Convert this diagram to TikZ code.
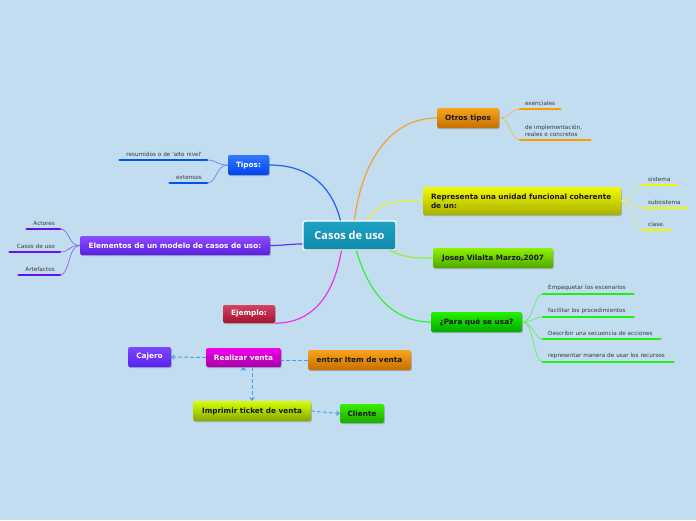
\documentclass[tikz,border=0pt]{standalone}
\usepackage{fontspec}
\setmainfont{DejaVu Sans}
\newfontfamily\ctrfont{Open Sans}
\usetikzlibrary{shadows,arrows.meta}
\definecolor{bg}{HTML}{C2DDF0}
\definecolor{ctrT}{HTML}{1DA2C4}
\definecolor{ctrB}{HTML}{1288AA}
\definecolor{orT}{HTML}{F8A41C}
\definecolor{orB}{HTML}{C47000}
\definecolor{yeT}{HTML}{F2FA00}
\definecolor{yeB}{HTML}{A8B000}
\definecolor{joT}{HTML}{8EF200}
\definecolor{joB}{HTML}{4EA800}
\definecolor{paT}{HTML}{26F200}
\definecolor{paB}{HTML}{00A800}
\definecolor{tiT}{HTML}{3377FF}
\definecolor{tiB}{HTML}{0044EE}
\definecolor{elT}{HTML}{8C4EFF}
\definecolor{elB}{HTML}{5A1EE0}
\definecolor{ejT}{HTML}{D24462}
\definecolor{ejB}{HTML}{A81030}
\definecolor{caT}{HTML}{7C46FF}
\definecolor{caB}{HTML}{5A22EE}
\definecolor{rvT}{HTML}{F200EA}
\definecolor{rvB}{HTML}{A800A8}
\definecolor{imT}{HTML}{D6FF00}
\definecolor{imB}{HTML}{88A800}
\definecolor{clT}{HTML}{36EE00}
\definecolor{clB}{HTML}{1EAA00}
\definecolor{lTi}{HTML}{2060F0}
\definecolor{lEl}{HTML}{6633EE}
\definecolor{lEj}{HTML}{EE33EE}
\definecolor{lOr}{HTML}{F5A030}
\definecolor{lYe}{HTML}{EEF030}
\definecolor{lJo}{HTML}{99EE33}
\definecolor{lPa}{HTML}{33EE33}
\definecolor{uOr}{HTML}{FF9900}
\definecolor{uYe}{HTML}{F5F500}
\definecolor{uPa}{HTML}{22EE11}
\definecolor{uTi}{HTML}{0055EE}
\definecolor{uEl}{HTML}{6611EE}
\definecolor{bOr}{HTML}{F5B050}
\definecolor{bYe}{HTML}{EEF060}
\definecolor{bPa}{HTML}{55EE55}
\definecolor{bTi}{HTML}{4488EE}
\definecolor{bEl}{HTML}{8855EE}
\definecolor{dashblue}{HTML}{4A9BE8}
\tikzset{
  box/.style={rectangle, rounded corners=2pt, inner sep=0pt, align=center,
    font=\fontsize{7.3}{8.6}\selectfont\bfseries,
    drop shadow={shadow xshift=0.8pt, shadow yshift=-1.2pt, opacity=0.3, fill=black!70}},
  dark/.style={text=black!90},
  light/.style={text=white},
  leafR/.style={anchor=south west, align=left, inner xsep=5pt, inner ysep=3pt,
    font=\fontsize{5.7}{6.9}\selectfont, text=black!78},
  leafL/.style={anchor=south east, align=right, inner xsep=5pt, inner ysep=3pt,
    font=\fontsize{5.7}{6.9}\selectfont, text=black!78},
  uline/.style={line width=2.7pt, line cap=round},
  branch/.style={line width=0.6pt},
  mainline/.style={line width=1.2pt},
  dashc/.style={draw=dashblue, line width=1pt, dash pattern=on 3.5pt off 2.5pt},
  tipc/.style={-{Straight Barb[length=2.4pt,width=4.4pt]}},
}
\begin{document}
\begin{tikzpicture}[x=1pt,y=-1pt]
\fill[bg] (0,0) rectangle (696,520);
\useasboundingbox (0,0) rectangle (696,520);

% main nodes
\node[box,light,top color=ctrT,bottom color=ctrB,draw=white,line width=1.2pt,rounded corners=2.5pt,
  minimum width=93pt,minimum height=29pt,font=\ctrfont\fontsize{11}{13}\selectfont\bfseries] (c) at (349.5,235.5) {Casos de uso};
\node[box,dark,top color=orT,bottom color=orB,minimum width=62pt,minimum height=20pt] (ot) at (468,118) {Otros tipos};
\node[box,dark,top color=yeT,bottom color=yeB,minimum width=198pt,minimum height=28pt,text width=182pt,align=left] (rep) at (522,201) {Representa una unidad funcional coherente\\de un:};
\node[box,dark,top color=joT,bottom color=joB,minimum width=120pt,minimum height=20pt] (jos) at (493,258) {Josep Vilalta Marzo,2007};
\node[box,dark,top color=paT,bottom color=paB,minimum width=91pt,minimum height=20pt] (para) at (476.5,322) {¿Para qué se usa?};
\node[box,light,top color=tiT,bottom color=tiB,minimum width=41pt,minimum height=20pt] (tip) at (248.5,165) {Tipos:};
\node[box,light,top color=elT,bottom color=elB,minimum width=190pt,minimum height=19pt] (el) at (175,245.5) {Elementos de un modelo de casos de uso:};
\node[box,light,top color=ejT,bottom color=ejB,minimum width=52pt,minimum height=18pt] (ej) at (249,314) {Ejemplo:};
\node[box,light,top color=caT,bottom color=caB,minimum width=43pt,minimum height=20pt] (caj) at (149.5,357) {Cajero};
\node[box,light,top color=rvT,bottom color=rvB,minimum width=75pt,minimum height=19pt] (rv) at (243.5,357.5) {Realizar venta};
\node[box,dark,top color=orT,bottom color=orB,minimum width=103pt,minimum height=20pt] (ent) at (359.5,360) {entrar Item de venta};
\node[box,dark,top color=imT,bottom color=imB,minimum width=118pt,minimum height=20pt] (imp) at (252,411) {Imprimir ticket de venta};
\node[box,dark,top color=clT,bottom color=clB,minimum width=44pt,minimum height=19pt] (cli) at (362,413.5) {Cliente};

% main connectors
\draw[mainline,lTi] ([xshift=38pt]c.north west) .. controls +(-8,-32) and +(42,0) .. (tip.east);
\draw[mainline,lOr] ([xshift=52pt]c.north west) .. controls +(8,-62) and +(-45,0) .. (ot.west);
\draw[mainline,lYe] ([xshift=64pt]c.north west) .. controls +(15,-18) and +(-35,0) .. (rep.west);
\draw[mainline,lJo] ([xshift=87pt]c.south west) .. controls +(15,6) and +(-25,0) .. (jos.west);
\draw[mainline,lPa] ([xshift=54pt]c.south west) .. controls +(12,42) and +(-38,0) .. (para.west);
\draw[mainline,lEj] ([xshift=39pt]c.south west) .. controls +(-8,48) and +(35,0) .. (ej.south east);
\draw[mainline,lEl] ([yshift=-8.5pt]c.west) .. controls +(-15,0) and +(15,0) .. (el.east);

% leaves: Otros tipos
\node[leafR,text width=30pt] (l1) at (520,109) {esenciales};
\node[leafR,text width=60pt] (l2) at (520,140) {de implementación,\\reales o concretos};
% Representa
\node[leafR,text width=23pt] (l3) at (643,185) {sistema};
\node[leafR,text width=34pt] (l4) at (643,208) {subsistema};
\node[leafR,text width=17pt] (l5) at (643,230) {clase.};
% Para que
\node[leafR,text width=80pt] (l6) at (543,294) {Empaquetar los escenarios};
\node[leafR,text width=80pt] (l7) at (543,317) {facilitar los procedimientos};
\node[leafR,text width=107pt] (l8) at (543,339) {Describir una secuencia de acciones};
\node[leafR,text width=120pt] (l9) at (543,362) {representar manera de usar los recursos};
% Tipos
\node[leafL,text width=77pt] (l10) at (207,160) {resumidos o de \textquotesingle alto nivel\textquotesingle};
\node[leafL,text width=27pt] (l11) at (207,183) {extensos};
% Elementos
\node[leafL,text width=23pt] (l12) at (60,229) {Actores};
\node[leafL,text width=40pt] (l13) at (60,252) {Casos de uso};
\node[leafL,text width=31pt] (l14) at (60,275) {Artefactos};

% branches and underlines
\foreach \l in {l1,l2}{
  \draw[branch,bOr] (ot.east) .. controls +(12,0) and +(-10,0) .. (\l.south west);
  \draw[uline,uOr] (\l.south west) -- (\l.south east);}
\foreach \l in {l3,l4,l5}{
  \draw[branch,bYe] (rep.east) .. controls +(12,0) and +(-10,0) .. (\l.south west);
  \draw[uline,uYe] (\l.south west) -- (\l.south east);}
\foreach \l in {l6,l7,l8,l9}{
  \draw[branch,bPa] (para.east) .. controls +(12,0) and +(-10,0) .. (\l.south west);
  \draw[uline,uPa] (\l.south west) -- (\l.south east);}
\foreach \l in {l10,l11}{
  \draw[branch,bTi] (tip.west) .. controls +(-12,0) and +(10,0) .. (\l.south east);
  \draw[uline,uTi] (\l.south west) -- (\l.south east);}
\foreach \l in {l12,l13,l14}{
  \draw[branch,bEl] (el.west) .. controls +(-12,0) and +(10,0) .. (\l.south east);
  \draw[uline,uEl] (\l.south west) -- (\l.south east);}

% dashed relations
\draw[dashc,tipc] (rv.west) -- (caj.east);
\draw[dashc] (ent.west) -- (ent.west -| rv.east);
\draw[dashc,tipc] (imp.north |- rv.south) -- (imp.north);
\coordinate (stub) at ([yshift=-3pt]rv.south);
\draw[dashc,tipc] (stub) -- (rv.south);
\draw[dashc,tipc] (imp.east) -- (cli.west);
\end{tikzpicture}
\end{document}
